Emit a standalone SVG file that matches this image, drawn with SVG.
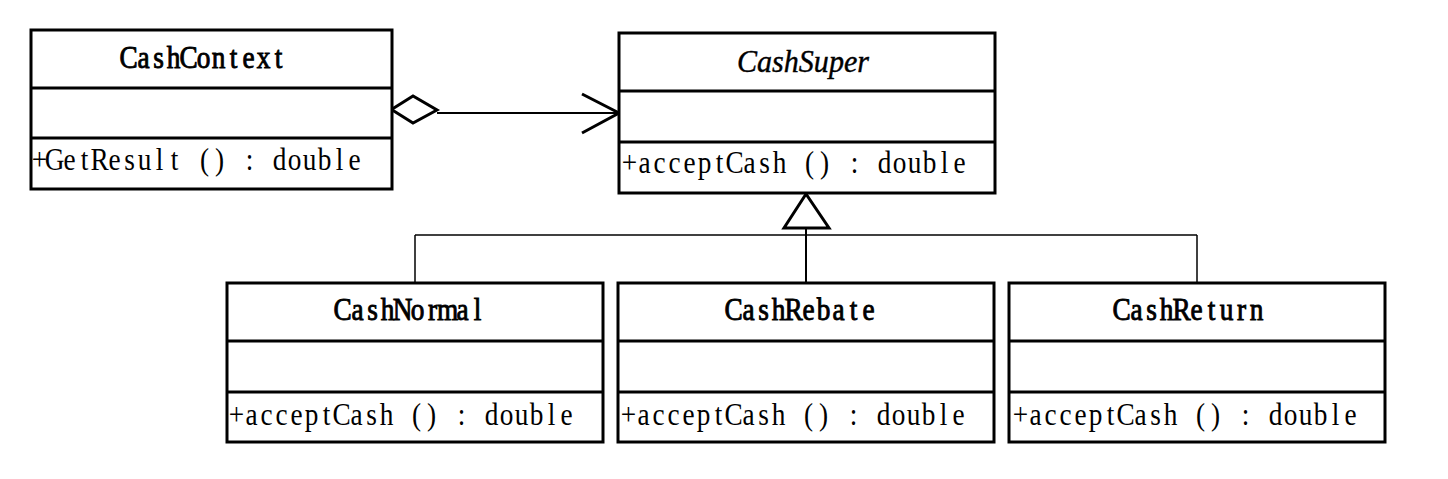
<svg xmlns="http://www.w3.org/2000/svg" width="1448" height="479" viewBox="0 0 1448 479">
<style>
.box{fill:#fff;stroke:#000;stroke-width:3}
.div{stroke:#000;stroke-width:3}
.title{font-family:"Liberation Serif","Noto Sans CJK SC",serif;font-size:31px;fill:#000;stroke:#000;stroke-width:0.9;text-anchor:middle}
.ital{font-family:"Liberation Serif","Noto Sans CJK SC",serif;font-size:31px;fill:#000;font-style:italic;stroke:#000;stroke-width:0.4}
.op{font-family:"Liberation Serif","Noto Sans CJK SC",serif;font-size:31px;fill:#000;text-anchor:middle}
.ln{fill:none;stroke:#000}
</style>
<rect width="1448" height="479" fill="#fff"/>
<g id="connectors">
  <line class="ln" x1="437" y1="113" x2="619" y2="113" stroke-width="2"/>
  <polygon points="391.5,109.5 413,96 437,110 413,123" fill="#fff" stroke="#000" stroke-width="3"/>
  <polyline class="ln" points="582,94 619,113 582,133" stroke-width="3"/>
  <line class="ln" x1="415" y1="235" x2="1197" y2="235" stroke-width="1.5"/>
  <line class="ln" x1="415" y1="235" x2="415" y2="283" stroke-width="1.5"/>
  <line class="ln" x1="1197" y1="235" x2="1197" y2="283" stroke-width="1.5"/>
  <line class="ln" x1="806" y1="228" x2="806" y2="283" stroke-width="2"/>
  <polygon points="806,194 784,228 829,228" fill="#fff" stroke="#000" stroke-width="3"/>
</g>
<g id="CashContext">
  <rect class="box" x="31" y="30" width="361" height="159"/>
  <line class="div" x1="31" y1="88" x2="392" y2="88"/>
  <line class="div" x1="31" y1="138" x2="392" y2="138"/>
  <text class="title" transform="translate(121,68) scale(0.88,1)" x="8.52 25.57 42.61 59.66 76.70 93.75 110.80 127.84 144.89 161.93 178.98" y="0">CashContext</text>
  <text class="op" transform="translate(32,170) scale(0.88,1)" x="8.52 25.57 42.61 59.66 76.70 93.75 110.80 127.84 144.89 161.93 178.98 196.02 213.07 230.11 247.16 264.20 281.25 298.30 315.34 332.39 349.43 366.48" y="0" xml:space="preserve">+GetResult () : double</text>
</g>
<g id="CashSuper">
  <rect class="box" x="619" y="33" width="376" height="160"/>
  <line class="div" x1="619" y1="91" x2="995" y2="91"/>
  <line class="div" x1="619" y1="142" x2="995" y2="142"/>
  <text class="ital" x="737" y="72" textLength="132" lengthAdjust="spacingAndGlyphs">CashSuper</text>
  <text class="op" transform="translate(622,173) scale(0.88,1)" x="8.52 25.57 42.61 59.66 76.70 93.75 110.80 127.84 144.89 161.93 178.98 196.02 213.07 230.11 247.16 264.20 281.25 298.30 315.34 332.39 349.43 366.48 383.52" y="0" xml:space="preserve">+acceptCash () : double</text>
</g>
<g id="CashNormal">
  <rect class="box" x="227" y="283" width="376" height="159"/>
  <line class="div" x1="227" y1="341" x2="603" y2="341"/>
  <line class="div" x1="227" y1="392" x2="603" y2="392"/>
  <text class="title" transform="translate(335,320) scale(0.88,1)" x="8.52 25.57 42.61 59.66 76.70 93.75 110.80 127.84 144.89 161.93" y="0">CashNormal</text>
  <text class="op" transform="translate(229,425) scale(0.88,1)" x="8.52 25.57 42.61 59.66 76.70 93.75 110.80 127.84 144.89 161.93 178.98 196.02 213.07 230.11 247.16 264.20 281.25 298.30 315.34 332.39 349.43 366.48 383.52" y="0" xml:space="preserve">+acceptCash () : double</text>
</g>
<g id="CashRebate">
  <rect class="box" x="618" y="283" width="376" height="159"/>
  <line class="div" x1="618" y1="341" x2="994" y2="341"/>
  <line class="div" x1="618" y1="392" x2="994" y2="392"/>
  <text class="title" transform="translate(726,320) scale(0.88,1)" x="8.52 25.57 42.61 59.66 76.70 93.75 110.80 127.84 144.89 161.93" y="0">CashRebate</text>
  <text class="op" transform="translate(621,425) scale(0.88,1)" x="8.52 25.57 42.61 59.66 76.70 93.75 110.80 127.84 144.89 161.93 178.98 196.02 213.07 230.11 247.16 264.20 281.25 298.30 315.34 332.39 349.43 366.48 383.52" y="0" xml:space="preserve">+acceptCash () : double</text>
</g>
<g id="CashReturn">
  <rect class="box" x="1009" y="283" width="376" height="159"/>
  <line class="div" x1="1009" y1="341" x2="1385" y2="341"/>
  <line class="div" x1="1009" y1="392" x2="1385" y2="392"/>
  <text class="title" transform="translate(1114,320) scale(0.88,1)" x="8.52 25.57 42.61 59.66 76.70 93.75 110.80 127.84 144.89 161.93" y="0">CashReturn</text>
  <text class="op" transform="translate(1013,425) scale(0.88,1)" x="8.52 25.57 42.61 59.66 76.70 93.75 110.80 127.84 144.89 161.93 178.98 196.02 213.07 230.11 247.16 264.20 281.25 298.30 315.34 332.39 349.43 366.48 383.52" y="0" xml:space="preserve">+acceptCash () : double</text>
</g>
</svg>
